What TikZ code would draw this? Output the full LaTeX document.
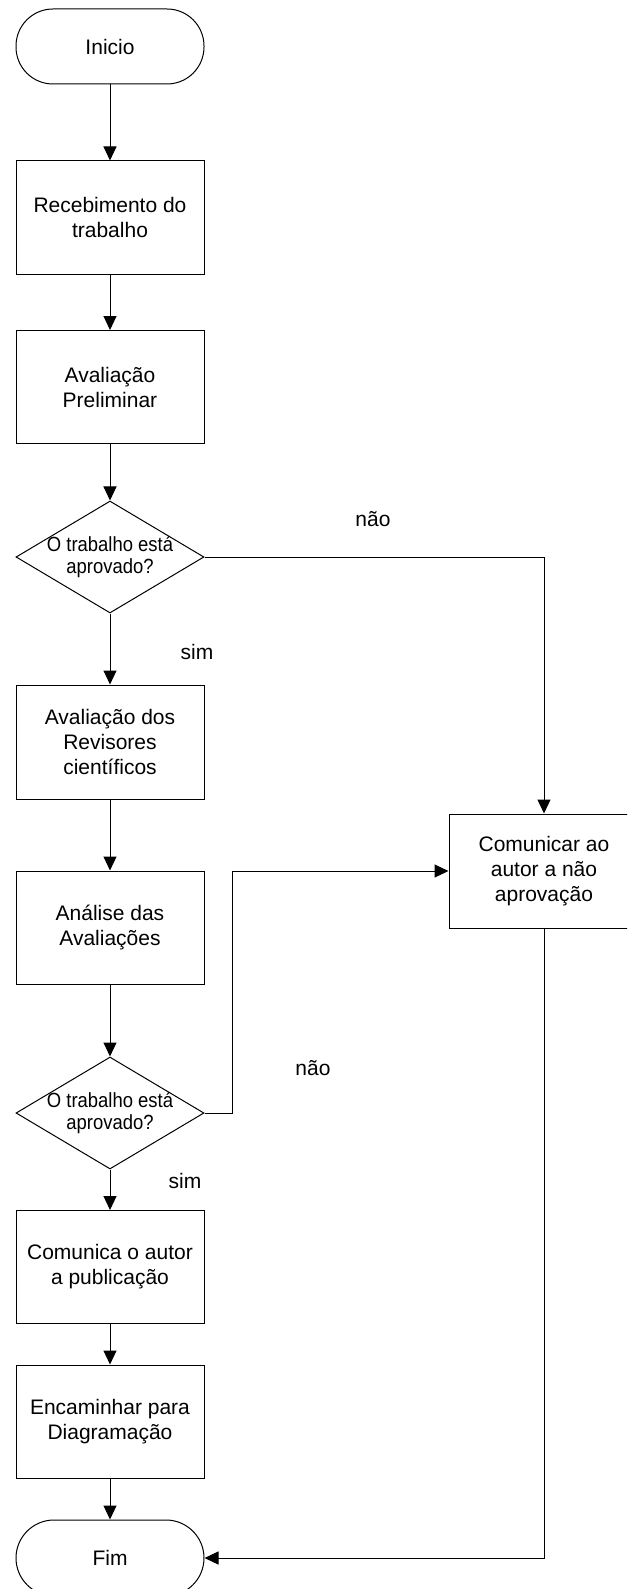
\documentclass[tikz,border=0pt]{standalone}
\usepackage{fontspec}
\setmainfont{Liberation Sans}
\newfontfamily\dfont[FakeStretch=0.9]{Liberation Sans}
\usetikzlibrary{shapes.geometric,arrows.meta}
\begin{document}
\begin{tikzpicture}[x=1pt,y=-1pt,
  every node/.style={font=\fontsize{21}{25}\selectfont},
  proc/.style={draw, line width=1pt, rectangle, minimum width=188pt, minimum height=113pt, inner sep=0pt, align=center},
  term/.style={draw, line width=1pt, rectangle, rounded corners=37pt, minimum width=188pt, minimum height=75pt, inner sep=0pt, align=center},
  dec/.style={draw, line width=1pt, diamond, minimum width=188pt, minimum height=112pt, inner sep=0pt},
  dtext/.style={inner sep=0pt, align=center, font=\dfont\fontsize{20.5}{22}\selectfont},
  arr/.style={-{Triangle[length=14pt,width=13pt]}, line width=1pt},
  lbl/.style={inner sep=0pt}
]
\useasboundingbox (0,0) rectangle (627,1589);
\clip (0,0) rectangle (627,1589);

\node[term] (ini) at (110,46.5) {Inicio};
\node[proc] (rec) at (110,217.5) {Recebimento do\\trabalho};
\node[proc] (pre) at (110,387) {Avaliação\\Preliminar};
\node[dec] (d1) at (110,557) {};
\node[dtext] (d1t) at (110,557) {O trabalho está\\aprovado?};
\node[proc, minimum height=114pt] (rev) at (110,742) {Avaliação dos\\Revisores\\científicos};
\node[proc] (ana) at (110,927.5) {Análise das\\Avaliações};
\node[dec] (d2) at (110,1113) {};
\node[dtext] (d2t) at (110,1113) {O trabalho está\\aprovado?};
\node[proc] (pub) at (110,1267) {Comunica o autor\\a publicação};
\node[proc] (enc) at (110,1421.5) {Encaminhar para\\Diagramação};
\node[term, minimum height=76pt, rounded corners=38pt] (fim) at (110,1558) {Fim};
\node[proc, minimum width=190pt, minimum height=114pt] (nao) at (544,871) {Comunicar ao\\autor a não\\aprovação};

\node[lbl] (l1) at (373,519) {não};
\node[lbl] (l2) at (197,652) {sim};
\node[lbl] (l3) at (313,1068) {não};
\node[lbl] (l4) at (185,1181) {sim};

\draw[arr] (ini) -- (rec);
\draw[arr] (rec) -- (pre);
\draw[arr] (pre) -- (d1);
\draw[arr] (d1) -- (rev);
\draw[arr] (rev) -- (ana);
\draw[arr] (ana) -- (d2);
\draw[arr] (d2) -- (pub);
\draw[arr] (pub) -- (enc);
\draw[arr] (enc) -- (fim);
\draw[arr] (d1.east) -| (nao.north);
\draw[arr] (d2.east) -- ++(28,0) |- (nao.west);
\draw[arr] (nao.south) |- (fim.east);
\end{tikzpicture}
\end{document}
